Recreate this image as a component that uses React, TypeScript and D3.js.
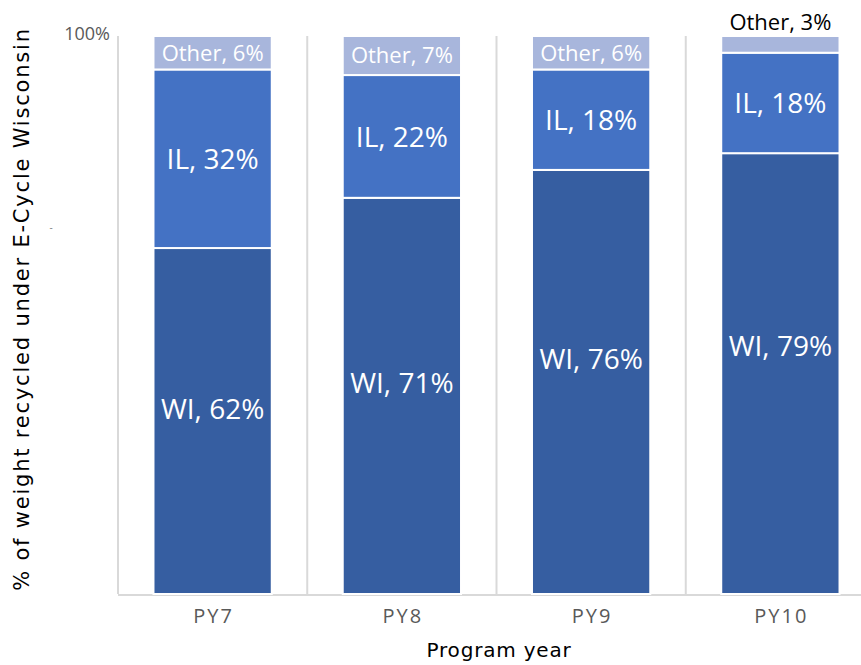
import React from "react";
import * as d3 from "d3";

const categories = ["PY7", "PY8", "PY9", "PY10"];
const seriesNames = ["WI", "IL", "Other"];
const wiValues = [62, 71, 76, 79];
const ilValues = [32, 22, 18, 18];
const otherValues = [6, 7, 6, 3];
const yTickLabels = ["100%"];
const colors = ["#365ea1", "#4472c4", "#a8b6dc"];

// label layout nudges (px) for the WI labels, as placed in the original
const wiLabelNudge = [-12, -13, -23, -28];

const W = 861;
const H = 665;
const FONT = "'Open Sans', 'DejaVu Sans', sans-serif";
const TITLE_FONT = "'DejaVu Sans', sans-serif";

export default function App() {
  const x = d3
    .scaleBand<string>()
    .domain(categories)
    .range([118, 875])
    .paddingInner(0.375)
    .paddingOuter(0.1875);
  const y = d3.scaleLinear().domain([0, 100]).range([594, 36]);

  const rows = categories.map((c, i) => ({
    cat: c,
    WI: wiValues[i],
    IL: ilValues[i],
    Other: otherValues[i],
  }));
  const stacked = d3.stack<any>().keys(seriesNames)(rows);

  const gridXs = categories.map((c) => (x(c) as number) - x.step() * 0.1875);

  return (
    <svg width={W} height={H} style={{ position: "absolute", left: 0, top: 0 }}>
      <rect width={W} height={H} fill="#fff" />
      {gridXs.map((gx, i) => (
        <line key={i} x1={gx} x2={gx} y1={36} y2={594} stroke="#d9d9d9" strokeWidth={2} />
      ))}
      <line x1={118} x2={W} y1={595} y2={595} stroke="#d9d9d9" strokeWidth={2} />
      {stacked.map((s, si) =>
        s.map((d, i) => (
          <rect
            key={`${si}-${i}`}
            x={x(categories[i]) as number}
            width={x.bandwidth()}
            y={y(d[1])}
            height={y(d[0]) - y(d[1])}
            fill={colors[si]}
            stroke="#fff"
            strokeWidth={2}
          />
        ))
      )}
      {stacked.map((s, si) =>
        s.map((d, i) => {
          const cx = (x(categories[i]) as number) + x.bandwidth() / 2;
          const val = d[1] - d[0];
          const small = val < 5;
          let cy = small ? y(d[1]) - 14 : (y(d[0]) + y(d[1])) / 2;
          if (si === 0) cy += wiLabelNudge[i];
          const isOther = si === 2;
          return (
            <text
              key={`t${si}-${i}`}
              x={cx}
              y={cy}
              dy="0.36em"
              textAnchor="middle"
              fill={small ? "#000" : "#fff"}
              fontFamily={FONT}
              fontSize={isOther ? 22 : 28}
            >
              {`${seriesNames[si]}, ${val}%`}
            </text>
          );
        })
      )}
      {yTickLabels.map((t) => (
        <text key={t} x={110} y={40} textAnchor="end" fill="#595959" fontFamily={FONT} fontSize={18}>
          {t}
        </text>
      ))}
      {categories.map((c) => (
        <text
          key={c}
          x={(x(c) as number) + x.bandwidth() / 2 + 1}
          y={623}
          textAnchor="middle"
          fill="#595959"
          fontFamily={FONT}
          fontSize={20}
          letterSpacing={2}
        >
          {c}
        </text>
      ))}
      <text x={51} y={231} textAnchor="middle" fill="#7f7f7f" fontFamily={FONT} fontSize={10}>
        -
      </text>
      <text
        x={499}
        y={657}
        textAnchor="middle"
        fill="#000"
        fontFamily={TITLE_FONT}
        fontSize={20}
        letterSpacing={0.8}
      >
        Program year
      </text>
      <text
        transform={`translate(29, 309) rotate(-90)`}
        textAnchor="middle"
        fill="#000"
        fontFamily={TITLE_FONT}
        fontSize={21}
        letterSpacing={1.8}
      >
        % of weight recycled under E-Cycle Wisconsin
      </text>
    </svg>
  );
}
